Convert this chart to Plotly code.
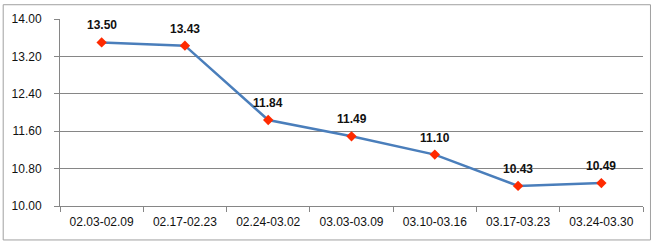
import plotly.graph_objects as go

categories = ["02.03-02.09", "02.17-02.23", "02.24-03.02", "03.03-03.09",
              "03.10-03.16", "03.17-03.23", "03.24-03.30"]
values = [13.50, 13.43, 11.84, 11.49, 11.10, 10.43, 10.49]
y_ticks = [10.00, 10.80, 11.60, 12.40, 13.20, 14.00]

fig = go.Figure()
fig.add_trace(go.Scatter(
    x=categories, y=values, mode="lines+markers",
    line=dict(color="#4A7EBB", width=2.5),
    marker=dict(symbol="diamond", color="#FF2A00", size=8,
                line=dict(color="#FF2A00", width=0)),
    cliponaxis=False, showlegend=False,
))

for c, v in zip(categories, values):
    fig.add_annotation(x=c, y=v, text=f"<b>{v:.2f}</b>", showarrow=False,
                       yshift=17, font=dict(family="Liberation Sans", size=12,
                                            color="#111111"))

fig.update_layout(
    width=660, height=242,
    margin=dict(l=58, r=17, t=16, b=36),
    paper_bgcolor="white", plot_bgcolor="white",
    font=dict(family="Liberation Sans", size=12, color="#111111"),
    xaxis=dict(
        type="category", range=[-0.5, 6.5],
        tickson="boundaries", ticks="outside", ticklen=5, tickcolor="#868686",
        showline=True, linecolor="#868686", linewidth=1,
        showgrid=False, ticklabelstandoff=5,
    ),
    yaxis=dict(
        range=[10, 14], tickvals=y_ticks, tickformat=".2f",
        ticks="outside", ticklen=5, tickcolor="#868686",
        showline=True, linecolor="#868686", linewidth=1,
        showgrid=True, gridcolor="#868686", gridwidth=1,
        zeroline=False, ticklabelstandoff=10,
    ),
    shapes=[dict(type="rect", xref="paper", yref="paper",
                 x0=(1 - 58) / 585, x1=(650.5 - 58) / 585,
                 y0=(206 - 240.5) / 190, y1=(206 - 1.5) / 190,
                 line=dict(color="#A0A0A0", width=1), layer="below")],
)

fig.write_html("out.html")
